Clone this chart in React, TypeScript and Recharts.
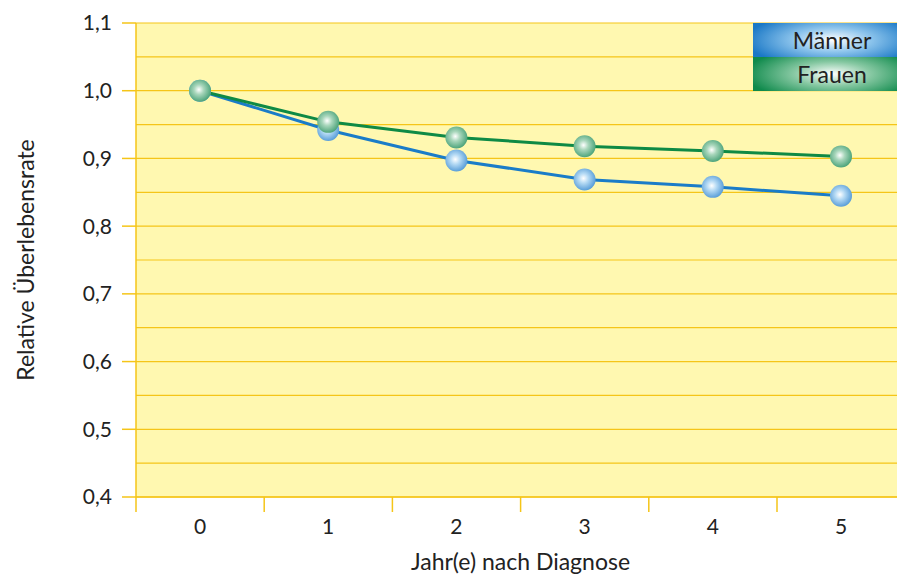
import React from 'react';
import { LineChart, Line, XAxis, YAxis, CartesianGrid } from 'recharts';

const years = ['0', '1', '2', '3', '4', '5'];
const maenner = [1.0, 0.942, 0.897, 0.869, 0.858, 0.845];
const frauen = [1.0, 0.954, 0.931, 0.918, 0.911, 0.903];
const yTicks = [0.4, 0.5, 0.6, 0.7, 0.8, 0.9, 1.0, 1.1];
const gridLines = [0.4, 0.45, 0.5, 0.55, 0.6, 0.65, 0.7, 0.75, 0.8, 0.85, 0.9, 0.95, 1.0, 1.05, 1.1];

const data = years.map((y, i) => ({ year: y, maenner: maenner[i], frauen: frauen[i] }));

const FONT = 'Lato, "Open Sans", sans-serif';
const GOLD = '#f5c518';

const XTick = (props: any) => {
  const { x, y, payload } = props;
  const top = y - 21;
  return (
    <g>
      <line x1={x - 64} x2={x - 64} y1={top} y2={top + 15} stroke={GOLD} strokeWidth={1.5} />
      <text x={x} y={y} dy={16} textAnchor="middle" fill="#222" fontSize={21} fontFamily={FONT}>
        {payload.value}
      </text>
    </g>
  );
};

const LegendBox = () => (
  <div style={{ position: 'absolute', top: 23, left: 753, width: 144, fontFamily: FONT, fontSize: 23, color: '#222' }}>
    <div style={{ height: 34, lineHeight: '34px', textAlign: 'center', paddingLeft: 14,
      background: 'radial-gradient(ellipse 60% 80% at 55% 50%, #ffffff 0%, #8cc4ec 45%, #1a78c6 100%)' }}>Männer</div>
    <div style={{ height: 34, lineHeight: '34px', textAlign: 'center', paddingLeft: 14,
      background: 'radial-gradient(ellipse 60% 80% at 55% 50%, #ffffff 0%, #86c8a2 45%, #0f8a4c 100%)' }}>Frauen</div>
  </div>
);

const makeDot = (id: string) => (props: any) => {
  const { cx, cy, index } = props;
  return <circle key={index} cx={cx} cy={cy} r={11} fill={`url(#${id})`} />;
};

export default function App() {
  return (
    <div style={{ width: 897, height: 578, overflow: 'hidden', background: '#fff', position: 'relative' }}>
      <style>{'body{margin:0}'}</style>
      <LineChart width={905} height={578} data={data} margin={{ top: 23, right: 0, bottom: 0, left: 0 }}>
        <defs>
          <radialGradient id="dotBlue" cx="45%" cy="45%" r="55%">
            <stop offset="0%" stopColor="#ffffff" />
            <stop offset="40%" stopColor="#b5daf4" />
            <stop offset="100%" stopColor="#5b9fd9" />
          </radialGradient>
          <radialGradient id="dotGreen" cx="45%" cy="45%" r="55%">
            <stop offset="0%" stopColor="#ffffff" />
            <stop offset="40%" stopColor="#a8d6bb" />
            <stop offset="100%" stopColor="#4fa57c" />
          </radialGradient>
        </defs>
        <CartesianGrid
          horizontalValues={gridLines}
          vertical={false}
          stroke={GOLD}
          strokeWidth={1.2}
          fill="#fff8b0"
          fillOpacity={1}
        />
        <XAxis
          dataKey="year"
          height={81}
          padding={{ left: 64, right: 64 }}
          axisLine={{ stroke: GOLD, strokeWidth: 1.5 }}
          tickLine={false}
          tickSize={15}
          tickMargin={6}
          tick={<XTick />}
          label={{ value: 'Jahr(e) nach Diagnose', position: 'insideBottom', offset: 8, fill: '#222', fontSize: 23, fontFamily: FONT }}
        />
        <YAxis
          type="number"
          domain={[0.4, 1.1]}
          ticks={yTicks}
          width={136}
          axisLine={{ stroke: GOLD, strokeWidth: 1.5 }}
          tickLine={{ stroke: GOLD, strokeWidth: 1.5 }}
          tickSize={14}
          tickMargin={10}
          tickFormatter={(v: number) => v.toFixed(1).replace('.', ',')}
          tick={{ fill: '#222', fontSize: 21, fontFamily: FONT }}
          label={{ value: 'Relative Überlebensrate', angle: -90, position: 'insideLeft', offset: 26, style: { textAnchor: 'middle' }, fill: '#222', fontSize: 23, fontFamily: FONT }}
        />
        <Line
          type="linear"
          dataKey="maenner"
          name="Männer"
          stroke="#1a7cc8"
          strokeWidth={3}
          dot={makeDot('dotBlue')}
          activeDot={false}
          isAnimationActive={false}
        />
        <Line
          type="linear"
          dataKey="frauen"
          name="Frauen"
          stroke="#0e8a45"
          strokeWidth={3}
          dot={makeDot('dotGreen')}
          activeDot={false}
          isAnimationActive={false}
        />
      </LineChart>
      <LegendBox />
    </div>
  );
}
